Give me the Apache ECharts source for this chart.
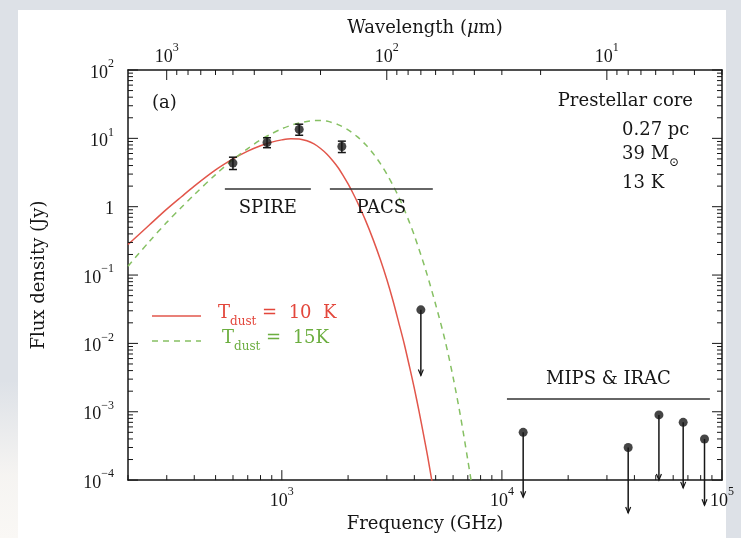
<!DOCTYPE html>
<html>
<head>
<meta charset="utf-8">
<script src="https://cdn.jsdelivr.net/npm/echarts@6/dist/echarts.min.js"></script>
<style>
html,body{margin:0;padding:0;background:#dde1e7;}
#chart{width:741px;height:538px;}
</style>
</head>
<body>
<div id="chart"></div>
<script>
// ---------- data ----------
const C_UM_GHZ = 299792.458;          // wavelength(um) = C / frequency(GHz)
const X_MIN = 200, X_MAX = 100000;    // GHz
const Y_MIN = 1e-4, Y_MAX = 100;      // Jy

// T_dust = 10 K model
const model10Freq = [200,250,300,350,400,500,600,700,800,900,1000,1100,1200,1300,1400,1500,1600,1700,1800,1900,2000,2100,2200,2400,2600,2800,3000,3200,3400,3600,3800,4000,4200,4400,4600,4800,4900];
const model10Flux = [0.28,0.54,0.92,1.4,2.0,3.45,5.0,6.5,7.8,8.8,9.5,9.9,9.8,9.2,8.3,7.1,5.9,4.75,3.75,2.85,2.15,1.6,1.18,0.63,0.33,0.17,0.086,0.042,0.020,0.0098,0.0046,0.0022,0.00102,4.7e-4,2.2e-4,1.0e-4,7e-5];

// T_dust = 15 K model
const model15Freq = [200,250,300,350,400,500,600,700,800,900,1000,1100,1200,1300,1400,1500,1600,1800,2000,2200,2400,2600,2800,3000,3200,3400,3600,3800,4000,4500,5000,5500,6000,6500,7000,7300];
const model15Flux = [0.135,0.31,0.59,0.98,1.5,2.95,4.9,7.1,9.5,11.7,13.8,15.5,16.8,17.7,18.2,18.3,17.9,15.9,13.3,10.6,8.1,6.0,4.3,3.0,2.05,1.38,0.91,0.59,0.38,0.12,0.037,0.0115,0.0032,8.2e-4,1.95e-4,8.5e-5];

// detections (SPIRE 500/350/250, PACS 160)
const detFreq = [599.6, 856.5, 1199.2, 1873.7];
const detFlux = [4.35, 8.7, 13.5, 7.6];
const detLow  = [3.5, 7.3, 11.1, 6.2];
const detHigh = [5.3, 10.2, 16.1, 9.1];

// upper limits (PACS 70, MIPS 24, IRAC 8.0/5.8/4.5/3.6)
const limFreq = [4282.7, 12491, 37474, 51688, 66620, 83276];
const limFlux = [0.031, 5.0e-4, 3.0e-4, 9.0e-4, 7.0e-4, 4.0e-4];
const limTo   = [0.0034, 5.6e-5, 3.3e-5, 1.0e-4, 7.7e-5, 4.3e-5];

// instrument bands
const bandNames = ['SPIRE', 'PACS', 'MIPS & IRAC'];
const bandFrom  = [551, 1653, 10540];
const bandTo    = [1355, 4853, 88100];
const bandLevel = [1.81, 1.81, 1.54e-3];
const bandLabelSide = ['below', 'below', 'above'];

// axis tick values
const freqMajor = [1000, 10000, 100000];
const waveMajor = [10, 100, 1000];
const fluxMajor = [1e-4, 1e-3, 1e-2, 1e-1, 1, 10, 100];

// ---------- helpers ----------
const FONT = 'DejaVu Serif';
const TICKFONT = 'Liberation Serif';
const INK = '#161616';
const RED = '#e2564b';
const GREEN = '#86c063';

function minorTicks(lo, hi) {
  const out = [];
  for (let e = -6; e <= 6; e++) {
    for (let m = 2; m <= 9; m++) {
      const v = m * Math.pow(10, e);
      if (v >= lo * 0.9999 && v <= hi * 1.0001) out.push(v);
    }
  }
  return out;
}
function powLabel(v) {
  const lg = Math.log10(v);
  const e = Math.round(lg);
  if (Math.abs(lg - e) > 1e-6) return '';
  if (e === 0) return '{b|1}';
  return '{b|10}{s|' + (e < 0 ? '\u2212' + (-e) : e) + '}';
}
const tickRich = {
  b: {fontFamily: TICKFONT, fontSize: 18, color: INK, lineHeight: 24, verticalAlign: 'bottom'},
  s: {fontFamily: TICKFONT, fontSize: 12, color: INK, lineHeight: 24, verticalAlign: 'top'}
};

const waveMinor = minorTicks(C_UM_GHZ / X_MAX, C_UM_GHZ / X_MIN);
const freqMinor = minorTicks(X_MIN, X_MAX);
const fluxMinor = minorTicks(Y_MIN, Y_MAX);

const MAJ = 10, MIN = 5;
const bottomTickData = freqMajor.map(v => [v, Y_MIN, MAJ]).concat(freqMinor.map(v => [v, Y_MIN, MIN]));
const topTickData = waveMajor.map(w => [C_UM_GHZ / w, Y_MAX, MAJ]).concat(waveMinor.map(w => [C_UM_GHZ / w, Y_MAX, MIN]));
const yTickData = fluxMajor.map(v => [X_MIN, v, MAJ]).concat(fluxMinor.map(v => [X_MIN, v, MIN]));

function tickSeries(data, kind) {
  return {
    type: 'custom', silent: true, z: 5, clip: false,
    data: data,
    renderItem: function (params, api) {
      const len = api.value(2);
      if (kind === 'y') {
        const pl = api.coord([X_MIN, api.value(1)]);
        const pr = api.coord([X_MAX, api.value(1)]);
        return {type: 'group', children: [
          {type: 'line', shape: {x1: pl[0], y1: pl[1], x2: pl[0] + len, y2: pl[1]}, style: {stroke: INK, lineWidth: 1}},
          {type: 'line', shape: {x1: pr[0], y1: pr[1], x2: pr[0] - len, y2: pr[1]}, style: {stroke: INK, lineWidth: 1}}
        ]};
      }
      const p = api.coord([api.value(0), api.value(1)]);
      const dir = kind === 'bottom' ? -1 : 1;
      return {type: 'line', shape: {x1: p[0], y1: p[1], x2: p[0], y2: p[1] + dir * len}, style: {stroke: INK, lineWidth: 1}};
    }
  };
}

const chart = echarts.init(document.getElementById('chart'), null, {renderer: 'canvas'});

const option = {
  animation: false,
  backgroundColor: '#dde1e7',
  grid: {left: 128, right: 19, top: 70, bottom: 49},
  graphic: [
    {type: 'rect', z: -10, silent: true, shape: {x: 0, y: 380, width: 18, height: 158},
      style: {fill: {type: 'linear', x: 0, y: 0, x2: 0, y2: 1, colorStops: [{offset: 0, color: 'rgba(248,246,243,0)'}, {offset: 0.6, color: 'rgba(248,246,243,0.9)'}, {offset: 1, color: 'rgba(250,248,245,1)'}]}}},
    {type: 'rect', z: -10, silent: true, shape: {x: 18, y: 10, width: 708, height: 528}, style: {fill: '#ffffff'}},
    {type: 'text', silent: true, x: 152, y: 103, style: {text: '(a)', fontFamily: FONT, fontSize: 18, fill: INK, align: 'left', verticalAlign: 'middle'}},
    {type: 'text', silent: true, x: 693, y: 101, style: {text: 'Prestellar core', fontFamily: FONT, fontSize: 18, fill: INK, align: 'right', verticalAlign: 'middle'}},
    {type: 'text', silent: true, x: 622, y: 130, style: {text: '0.27 pc', fontFamily: FONT, fontSize: 18, fill: INK, align: 'left', verticalAlign: 'middle'}},
    {type: 'text', silent: true, x: 622, y: 157, style: {text: '{a|39 M}{b|\u2299}', fill: INK, align: 'left', verticalAlign: 'middle',
      rich: {a: {fontFamily: FONT, fontSize: 18, lineHeight: 24, verticalAlign: 'top', fill: INK}, b: {fontFamily: FONT, fontSize: 12, lineHeight: 24, verticalAlign: 'bottom', fill: INK}}}},
    {type: 'text', silent: true, x: 622, y: 183, style: {text: '13 K', fontFamily: FONT, fontSize: 18, fill: INK, align: 'left', verticalAlign: 'middle'}},
    // legend
    {type: 'line', silent: true, shape: {x1: 152, y1: 316, x2: 201, y2: 316}, style: {stroke: RED, lineWidth: 1.5}},
    {type: 'text', silent: true, x: 218, y: 316, style: {text: '{a|T}{b|dust}{a| =  10  K}', align: 'left', verticalAlign: 'middle',
      rich: {a: {fontFamily: FONT, fontSize: 18, lineHeight: 24, verticalAlign: 'top', fill: '#e3473c'}, b: {fontFamily: FONT, fontSize: 12, lineHeight: 24, verticalAlign: 'bottom', fill: '#e3473c'}}}},
    {type: 'line', silent: true, shape: {x1: 152, y1: 341, x2: 201, y2: 341}, style: {stroke: GREEN, lineWidth: 1.5, lineDash: [6, 5]}},
    {type: 'text', silent: true, x: 222, y: 341, style: {text: '{a|T}{b|dust}{a| =  15K}', align: 'left', verticalAlign: 'middle',
      rich: {a: {fontFamily: FONT, fontSize: 18, lineHeight: 24, verticalAlign: 'top', fill: '#6cae40'}, b: {fontFamily: FONT, fontSize: 12, lineHeight: 24, verticalAlign: 'bottom', fill: '#6cae40'}}}}
  ],
  xAxis: [
    {
      type: 'log', logBase: 10, min: X_MIN, max: X_MAX, position: 'bottom',
      name: 'Frequency (GHz)', nameLocation: 'middle', nameGap: 28,
      nameTextStyle: {fontFamily: FONT, fontSize: 18, color: INK},
      axisLine: {show: true, lineStyle: {color: INK, width: 1.5}},
      axisTick: {show: false}, splitLine: {show: false}, minorTick: {show: false},
      axisLabel: {margin: 6, formatter: powLabel, rich: tickRich, hideOverlap: false}
    },
    {
      type: 'log', logBase: 10, inverse: true, min: C_UM_GHZ / X_MAX, max: C_UM_GHZ / X_MIN, position: 'top',
      name: 'Wavelength ({i|\u03bc}m)', nameLocation: 'middle', nameGap: 32,
      nameTextStyle: {fontFamily: FONT, fontSize: 18, color: INK, rich: {i: {fontFamily: FONT, fontSize: 18, fontStyle: 'italic', color: INK}}},
      axisLine: {show: true, lineStyle: {color: INK, width: 1.5}},
      axisTick: {show: false}, splitLine: {show: false},
      axisLabel: {margin: 4, formatter: powLabel, rich: tickRich, hideOverlap: false}
    }
  ],
  yAxis: [
    {
      type: 'log', logBase: 10, min: Y_MIN, max: Y_MAX, position: 'left',
      name: 'Flux density (Jy)', nameLocation: 'middle', nameGap: 80, nameRotate: 90,
      nameTextStyle: {fontFamily: FONT, fontSize: 18, color: INK},
      axisLine: {show: true, lineStyle: {color: INK, width: 1.5}},
      axisTick: {show: false}, splitLine: {show: false},
      axisLabel: {margin: 14, formatter: powLabel, rich: tickRich, hideOverlap: false}
    },
    {
      type: 'log', logBase: 10, min: Y_MIN, max: Y_MAX, position: 'right',
      axisLine: {show: true, lineStyle: {color: INK, width: 1.5}},
      axisTick: {show: false}, splitLine: {show: false}, axisLabel: {show: false}
    }
  ],
  series: [
    tickSeries(bottomTickData, 'bottom'),
    tickSeries(topTickData, 'top'),
    tickSeries(yTickData, 'y'),
    {
      type: 'line', name: 'Tdust = 10 K', silent: true, showSymbol: false, smooth: 0.3, clip: true, z: 3,
      data: model10Freq.map((f, i) => [f, model10Flux[i]]),
      lineStyle: {color: RED, width: 1.5}
    },
    {
      type: 'line', name: 'Tdust = 15K', silent: true, showSymbol: false, smooth: 0.3, clip: true, z: 3,
      data: model15Freq.map((f, i) => [f, model15Flux[i]]),
      lineStyle: {color: GREEN, width: 1.5, type: [6, 5]}
    },
    {
      type: 'custom', silent: true, clip: false, z: 4,
      data: bandNames.map((n, i) => [bandFrom[i], bandTo[i], bandLevel[i], i]),
      renderItem: function (params, api) {
        const i = api.value(3);
        const a = api.coord([api.value(0), api.value(2)]);
        const b = api.coord([api.value(1), api.value(2)]);
        const mid = (a[0] + b[0]) / 2;
        const dy = bandLabelSide[i] === 'below' ? 19 : -20;
        return {type: 'group', children: [
          {type: 'line', shape: {x1: a[0], y1: a[1], x2: b[0], y2: b[1]}, style: {stroke: '#333', lineWidth: 1.5}},
          {type: 'text', x: mid, y: a[1] + dy, style: {text: bandNames[i], fontFamily: FONT, fontSize: 18, fill: INK, align: 'center', verticalAlign: 'middle'}}
        ]};
      }
    },
    {
      type: 'custom', silent: true, clip: false, z: 6,
      data: detFreq.map((f, i) => [f, detLow[i], detHigh[i]]),
      renderItem: function (params, api) {
        const lo = api.coord([api.value(0), api.value(1)]);
        const hi = api.coord([api.value(0), api.value(2)]);
        const st = {stroke: INK, lineWidth: 1.5};
        return {type: 'group', children: [
          {type: 'line', shape: {x1: lo[0], y1: lo[1], x2: hi[0], y2: hi[1]}, style: st},
          {type: 'line', shape: {x1: lo[0] - 4, y1: lo[1], x2: lo[0] + 4, y2: lo[1]}, style: st},
          {type: 'line', shape: {x1: hi[0] - 4, y1: hi[1], x2: hi[0] + 4, y2: hi[1]}, style: st}
        ]};
      }
    },
    {
      type: 'custom', silent: true, clip: false, z: 6,
      data: limFreq.map((f, i) => [f, limFlux[i], limTo[i]]),
      renderItem: function (params, api) {
        const p = api.coord([api.value(0), api.value(1)]);
        const q = api.coord([api.value(0), api.value(2)]);
        const st = {stroke: INK, lineWidth: 1.5};
        return {type: 'group', children: [
          {type: 'line', shape: {x1: p[0], y1: p[1], x2: q[0], y2: q[1]}, style: st},
          {type: 'polyline', shape: {points: [[q[0] - 2.5, q[1] - 6], [q[0], q[1]], [q[0] + 2.5, q[1] - 6]]}, style: {stroke: INK, lineWidth: 1.2, fill: null}}
        ]};
      }
    },
    {
      type: 'scatter', silent: true, z: 7, clip: false,
      symbol: 'circle', symbolSize: 9,
      itemStyle: {color: INK},
      data: detFreq.map((f, i) => [f, detFlux[i]]).concat(limFreq.map((f, i) => [f, limFlux[i]]))
    }
  ]
};
chart.setOption(option);
</script>
</body>
</html>
